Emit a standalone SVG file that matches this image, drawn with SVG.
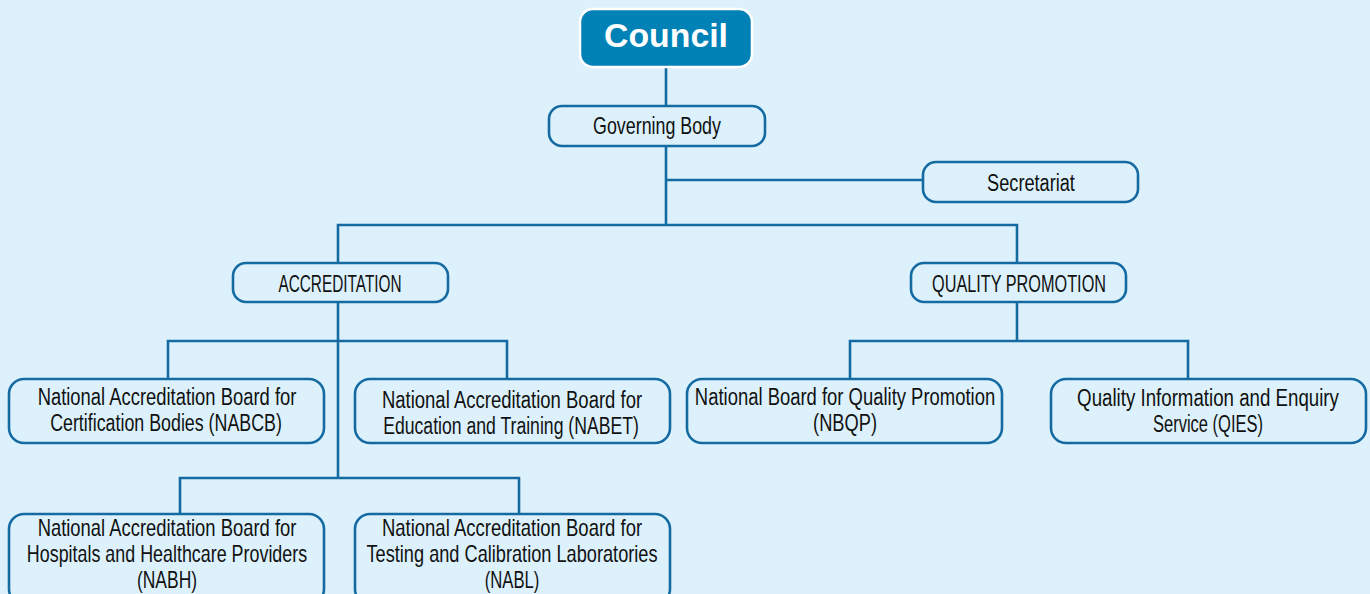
<svg xmlns="http://www.w3.org/2000/svg" width="1370" height="594" viewBox="0 0 1370 594">
<style>
.bg{fill:#dcf1fc}
.box{fill:#dcf1fc;stroke:#156ba1;stroke-width:2.6}
.ln{fill:none;stroke:#156ba1;stroke-width:2.6}
.t{font-family:"Liberation Sans",Arial,sans-serif;font-size:24px;fill:#111;text-anchor:middle}
.t3{font-size:23px}
.c{font-family:"Liberation Sans",Arial,sans-serif;font-size:34px;font-weight:bold;fill:#fff;text-anchor:middle}
</style>
<rect class="bg" x="0" y="0" width="1370" height="594"/>
<g id="connectors">
<path class="ln" d="M666 66V106"/>
<path class="ln" d="M666 146V225"/>
<path class="ln" d="M666 180H923"/>
<path class="ln" d="M338 263V225H1017V263"/>
<path class="ln" d="M338 302V478"/>
<path class="ln" d="M168 379V341H507V379"/>
<path class="ln" d="M180 514V478H519V514"/>
<path class="ln" d="M1017 302V341"/>
<path class="ln" d="M850 379V341H1188V379"/>
</g>
<g id="council">
<rect x="580" y="9" width="172" height="58" rx="13" fill="#0082b6" stroke="#fff" stroke-width="2.5"/>
<text class="c" x="666" y="47" textLength="124" lengthAdjust="spacingAndGlyphs">Council</text>
</g>
<g id="governing-body">
<rect class="box" x="549" y="106" width="216" height="40" rx="13"/>
<text class="t" transform="translate(657 0) scale(0.77 1)" x="0" y="134" textLength="166" lengthAdjust="spacingAndGlyphs">Governing Body</text>
</g>
<g id="secretariat">
<rect class="box" x="923" y="162" width="215" height="40" rx="13"/>
<text class="t" transform="translate(1031 0) scale(0.77 1)" x="0" y="191" textLength="114" lengthAdjust="spacingAndGlyphs">Secretariat</text>
</g>
<g id="accreditation">
<rect class="box" x="233" y="263" width="215" height="39" rx="13"/>
<text class="t" transform="translate(340 0) scale(0.77 1)" x="0" y="292" textLength="160" lengthAdjust="spacingAndGlyphs">ACCREDITATION</text>
</g>
<g id="quality-promotion">
<rect class="box" x="911" y="263" width="215" height="39" rx="13"/>
<text class="t" transform="translate(1019 0) scale(0.77 1)" x="0" y="292" textLength="226" lengthAdjust="spacingAndGlyphs">QUALITY PROMOTION</text>
</g>
<g id="nabcb">
<rect class="box" x="9" y="379" width="315" height="64" rx="15"/>
<text class="t" transform="translate(167 0) scale(0.77 1)" x="0" y="405" textLength="336" lengthAdjust="spacingAndGlyphs">National Accreditation Board for</text>
<text class="t" transform="translate(166 0) scale(0.77 1)" x="0" y="431" textLength="301" lengthAdjust="spacingAndGlyphs">Certification Bodies (NABCB)</text>
</g>
<g id="nabet">
<rect class="box" x="355" y="379" width="315" height="64" rx="15"/>
<text class="t" transform="translate(512 0) scale(0.77 1)" x="0" y="408" textLength="338" lengthAdjust="spacingAndGlyphs">National Accreditation Board for</text>
<text class="t" transform="translate(511 0) scale(0.77 1)" x="0" y="434" textLength="332" lengthAdjust="spacingAndGlyphs">Education and Training (NABET)</text>
</g>
<g id="nbqp">
<rect class="box" x="687" y="379" width="315" height="64" rx="15"/>
<text class="t" transform="translate(845 0) scale(0.77 1)" x="0" y="405" textLength="390" lengthAdjust="spacingAndGlyphs">National Board for Quality Promotion</text>
<text class="t" transform="translate(845 0) scale(0.77 1)" x="0" y="431" textLength="83" lengthAdjust="spacingAndGlyphs">(NBQP)</text>
</g>
<g id="qies">
<rect class="box" x="1051" y="379" width="315" height="64" rx="15"/>
<text class="t" transform="translate(1208 0) scale(0.77 1)" x="0" y="406" textLength="340" lengthAdjust="spacingAndGlyphs">Quality Information and Enquiry</text>
<text class="t" transform="translate(1208 0) scale(0.77 1)" x="0" y="432" textLength="143" lengthAdjust="spacingAndGlyphs">Service (QIES)</text>
</g>
<g id="nabh">
<rect class="box" x="9" y="514" width="315" height="90" rx="15"/>
<text class="t t3" transform="translate(167 0) scale(0.77 1)" x="0" y="536" textLength="336" lengthAdjust="spacingAndGlyphs">National Accreditation Board for</text>
<text class="t t3" transform="translate(167 0) scale(0.77 1)" x="0" y="562" textLength="364" lengthAdjust="spacingAndGlyphs">Hospitals and Healthcare Providers</text>
<text class="t t3" transform="translate(167 0) scale(0.77 1)" x="0" y="588" textLength="78" lengthAdjust="spacingAndGlyphs">(NABH)</text>
</g>
<g id="nabl">
<rect class="box" x="355" y="514" width="315" height="90" rx="15"/>
<text class="t t3" transform="translate(512 0) scale(0.77 1)" x="0" y="536" textLength="338" lengthAdjust="spacingAndGlyphs">National Accreditation Board for</text>
<text class="t t3" transform="translate(512 0) scale(0.77 1)" x="0" y="562" textLength="378" lengthAdjust="spacingAndGlyphs">Testing and Calibration Laboratories</text>
<text class="t t3" transform="translate(512 0) scale(0.77 1)" x="0" y="588" textLength="71" lengthAdjust="spacingAndGlyphs">(NABL)</text>
</g>
</svg>
